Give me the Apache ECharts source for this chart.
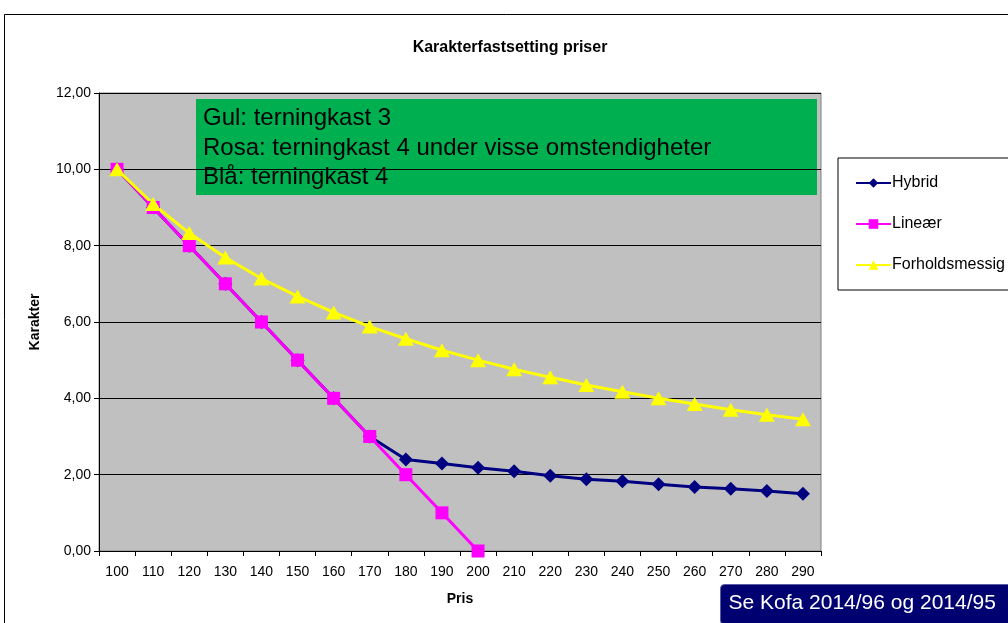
<!DOCTYPE html>
<html>
<head>
<meta charset="utf-8">
<script src="https://cdn.jsdelivr.net/npm/echarts@6/dist/echarts.min.js"></script>
<style>
html,body{margin:0;padding:0;background:#fff;}
#chart{width:1008px;height:623px;}
</style>
</head>
<body>
<div id="chart"></div>
<script>
// data
var priser = ['100','110','120','130','140','150','160','170','180','190','200','210','220','230','240','250','260','270','280','290'];
var hybrid = [10,9,8,7,6,5,4,3,2.40,2.29,2.18,2.09,1.97,1.88,1.83,1.75,1.68,1.63,1.57,1.50];
var linear = [10,9,8,7,6,5,4,3,2,1,0];
var forhold = [10,9.09,8.33,7.69,7.14,6.67,6.25,5.88,5.56,5.26,5.00,4.76,4.55,4.35,4.17,4.00,3.85,3.70,3.57,3.45];
var notat = ['Gul: terningkast 3','Rosa: terningkast 4 under visse omstendigheter','Blå: terningkast 4'];

var font = 'Liberation Sans, Arial, sans-serif';
var myChart = echarts.init(document.getElementById('chart'));
var option = {
	animation:false,
	backgroundColor:'#fff',
	textStyle:{fontFamily:font},
	title:{
		text:'Karakterfastsetting priser',
		left:505, top:35, textAlign:'center',
		textStyle:{fontSize:16, fontWeight:'bold', color:'#000', fontFamily:font}
	},
	legend:{
		orient:'vertical',
		left:838, top:158,
		padding:[17,60,17,17],
		itemGap:25,
		itemWidth:35, itemHeight:12,
		backgroundColor:'#fff',
		borderColor:'#000', borderWidth:1,
		textStyle:{fontSize:16, color:'#000', fontFamily:font, padding:[0,0,0,-4]},
		data:['Hybrid','Lineær','Forholdsmessig']
	},
	grid:{
		left:99, top:93, width:722, height:458,
		show:true, backgroundColor:'#c0c0c0', borderColor:'#808080', borderWidth:1
	},
	xAxis:{
		type:'category',
		data:priser,
		boundaryGap:true,
		name:'Pris', nameLocation:'middle', nameGap:41,
		nameTextStyle:{fontSize:14, fontWeight:'bold', color:'#000', fontFamily:font},
		axisLine:{lineStyle:{color:'#000', width:1}},
		axisTick:{show:true, inside:false, length:5, interval:0, alignWithLabel:false, lineStyle:{color:'#000'}},
		axisLabel:{fontSize:14, color:'#000', margin:14, interval:0, fontFamily:font},
		splitLine:{show:false}
	},
	yAxis:{
		type:'value',
		min:0, max:12, interval:2,
		name:'Karakter', nameLocation:'middle', nameGap:57, nameRotate:90,
		nameTextStyle:{fontSize:14, fontWeight:'bold', color:'#000', fontFamily:font},
		axisLine:{show:true, lineStyle:{color:'#000', width:1}},
		axisTick:{show:true, inside:false, length:5, lineStyle:{color:'#000'}},
		axisLabel:{fontSize:14, color:'#000', margin:8, fontFamily:font,
			formatter:function(v){ return v.toFixed(2).replace('.',','); }},
		splitLine:{show:true, lineStyle:{color:'#000', width:1}}
	},
	series:[
		{
			name:'Hybrid', type:'line', data:hybrid,
			symbol:'diamond', symbolSize:14,
			lineStyle:{color:'#000080', width:3},
			itemStyle:{color:'#000080'}
		},
		{
			name:'Lineær', type:'line', data:linear,
			symbol:'rect', symbolSize:13,
			lineStyle:{color:'#ff00ff', width:3},
			itemStyle:{color:'#ff00ff'}
		},
		{
			name:'Forholdsmessig', type:'line', data:forhold,
			symbol:'triangle', symbolSize:[16,14],
			lineStyle:{color:'#ffff00', width:3},
			itemStyle:{color:'#ffff00'}
		}
	],
	graphic:[
		{
			type:'rect', silent:true, z:0,
			shape:{x:4.5, y:14.5, width:1100, height:700},
			style:{fill:'none', stroke:'#000', lineWidth:1}
		},
		{
			type:'group', left:196, top:99, z:100,
			children:[
				{type:'rect', shape:{x:0, y:0, width:621, height:96}, style:{fill:'#00b050'}},
				{type:'text', x:7, y:5, style:{text:notat.join('\n'), fontSize:24, lineHeight:29.5, fill:'#000', fontFamily:font}}
			]
		},
		{
			type:'group', left:720, top:584, z:100,
			children:[
				{type:'rect', shape:{x:0, y:0, width:300, height:40, r:4}, style:{fill:'#000070', stroke:'#5a5aa0', lineWidth:1}},
				{type:'text', x:8, y:8, style:{text:'Se Kofa 2014/96 og 2014/95', fontSize:21, fill:'#fff', fontFamily:font}}
			]
		}
	]
};
myChart.setOption(option);
</script>
</body>
</html>
